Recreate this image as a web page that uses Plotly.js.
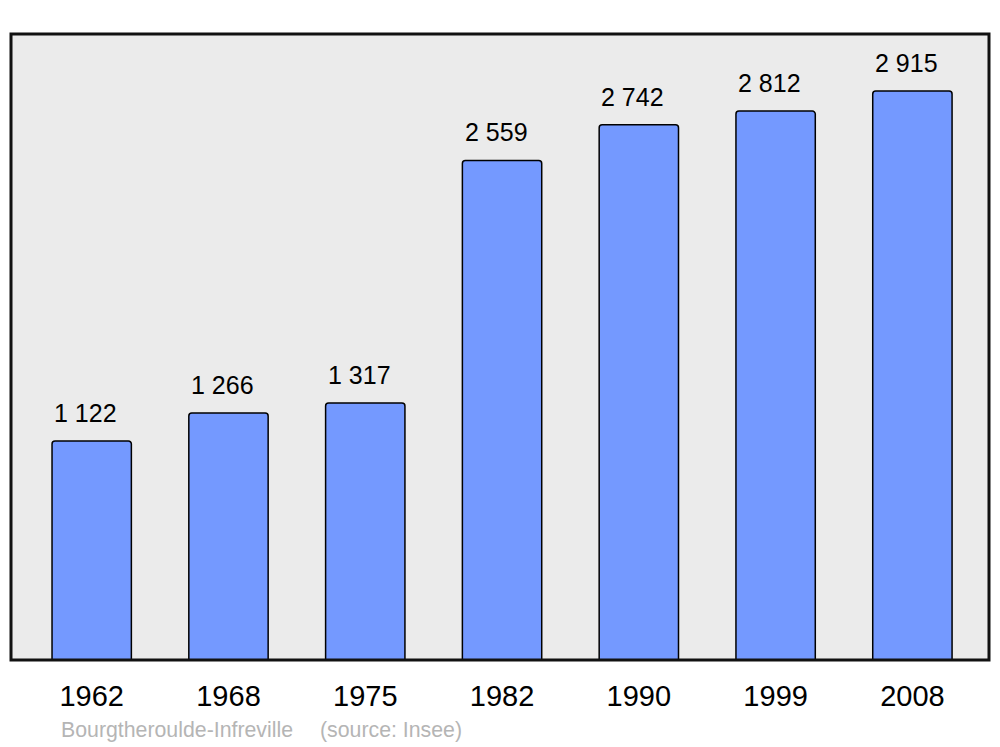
<!DOCTYPE html>
<html>
<head>
<meta charset="utf-8">
<script src="https://cdn.plot.ly/plotly-3.0.1.min.js"></script>
<style>html,body{margin:0;padding:0;background:#fff;}#chart{width:1000px;height:747px;}</style>
</head>
<body>
<div id="chart"></div>
<script>
const years = ["1962", "1968", "1975", "1982", "1990", "1999", "2008"];
const population = [1122, 1266, 1317, 2559, 2742, 2812, 2915];
const valueLabels = ["1 122", "1 266", "1 317", "2 559", "2 742", "2 812", "2 915"];
const placeName = "Bourgtheroulde-Infreville";
const sourceText = "(source: Insee)";

const font = "Liberation Sans, Arial, sans-serif";

const trace = {
  type: "bar",
  x: years,
  y: population,
  width: 0.58,
  marker: {color: "#7499ff", line: {color: "#000", width: 1.5}, cornerradius: 3},
  hoverinfo: "x+y"
};

const annotations = years.map((yr, i) => ({
  x: i, y: population[i], xref: "x", yref: "y",
  text: valueLabels[i], showarrow: false,
  yanchor: "bottom", xanchor: "center", yshift: 12, xshift: -6,
  font: {family: font, size: 25, color: "#000"}
}));
annotations.push({
  x: 0.0491, y: -0.1118, xref: "paper", yref: "paper", xanchor: "left", yanchor: "middle",
  text: placeName, showarrow: false, font: {family: font, size: 21.3, color: "#b5b5b5"}
});
annotations.push({
  x: 0.314, y: -0.1118, xref: "paper", yref: "paper", xanchor: "left", yanchor: "middle",
  text: sourceText, showarrow: false, font: {family: font, size: 21.3, color: "#b5b5b5"}
});

const layout = {
  width: 1000, height: 747,
  margin: {l: 11, r: 11, t: 34, b: 87, pad: 0},
  paper_bgcolor: "#fff",
  plot_bgcolor: "#ebebeb",
  showlegend: false,
  xaxis: {
    type: "category", range: [-0.59, 6.56], showgrid: false, zeroline: false,
    showline: false, ticks: "", ticklabelstandoff: 16,
    tickfont: {family: font, size: 29, color: "#000"}, fixedrange: true
  },
  yaxis: {
    range: [0, 3207], showgrid: false, zeroline: false, showline: false,
    showticklabels: false, ticks: "", fixedrange: true
  },
  shapes: [{
    type: "rect", xref: "paper", yref: "paper", x0: 0, x1: 1, y0: 0, y1: 1,
    line: {color: "#111", width: 3}, layer: "above"
  }],
  annotations: annotations
};

Plotly.newPlot("chart", [trace], layout, {displayModeBar: false, staticPlot: true});
</script>
</body>
</html>
